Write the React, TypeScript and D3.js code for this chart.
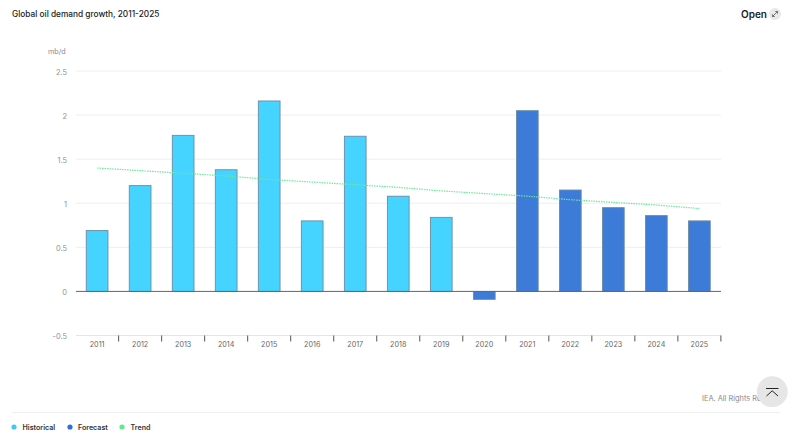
import { useRef, useEffect } from "react";
import * as d3 from "d3";

const WIDTH = 792;
const HEIGHT = 436;
const FONT = "Inter, 'Noto Sans', sans-serif";

const YEARS = ["2011", "2012", "2013", "2014", "2015", "2016", "2017", "2018", "2019", "2020", "2021", "2022", "2023", "2024", "2025"];
const GROWTH = [0.69, 1.2, 1.77, 1.38, 2.16, 0.8, 1.76, 1.08, 0.84, -0.09, 2.05, 1.15, 0.95, 0.86, 0.8];
const TREND = [1.4, 1.37, 1.34, 1.31, 1.27, 1.24, 1.21, 1.18, 1.14, 1.11, 1.08, 1.04, 1.01, 0.98, 0.94];
const KIND = ["h", "h", "h", "h", "h", "h", "h", "h", "h", "f", "f", "f", "f", "f", "f"];
const Y_TICKS = [-0.5, 0, 0.5, 1, 1.5, 2, 2.5];

const HIST_COLOR = "#45d3ff";
const FORECAST_COLOR = "#3d7bd9";
const TREND_COLOR = "#6be89a";

const LEGEND = [
  { label: "Historical", color: "#3fc8fb", x: 14, tx: 22.5 },
  { label: "Forecast", color: "#2f6fdc", x: 70, tx: 78 },
  { label: "Trend", color: "#5fe88f", x: 122, tx: 130.5 },
];

export default function App() {
  const svgRef = useRef<SVGSVGElement>(null);

  useEffect(() => {
    const svg = d3.select(svgRef.current);
    svg.selectAll("*").remove();

    const x = d3.scaleBand<string>().domain(YEARS).range([75.5, 721]).paddingInner(0.495).paddingOuter(0.25);
    const y = d3.scaleLinear().domain([-0.5, 2.5]).range([335.5, 71]);

    // Grid
    svg.append("g")
      .selectAll("line")
      .data(Y_TICKS.filter((t) => t !== 0))
      .enter()
      .append("line")
      .attr("x1", 76)
      .attr("x2", 721)
      .attr("y1", (d) => y(d))
      .attr("y2", (d) => y(d))
      .attr("stroke", (d) => (d === -0.5 ? "#dfe6f0" : "#eeeeee"))
      .attr("stroke-width", 1);

    svg.append("g")
      .selectAll("text")
      .data(Y_TICKS)
      .enter()
      .append("text")
      .attr("x", 67)
      .attr("y", (d) => y(d) + 3.8)
      .attr("text-anchor", "end")
      .attr("font-size", 7.4)
      .attr("fill", "#8f8f8f")
      .text((d) => String(d));

    svg.append("text")
      .attr("x", 48)
      .attr("y", 53.6)
      .attr("font-size", 7.2)
      .attr("fill", "#8a8a8a")
      .text("mb/d");

    // Bars
    svg.append("g")
      .selectAll("rect")
      .data(YEARS)
      .enter()
      .append("rect")
      .attr("x", (d) => x(d) ?? 0)
      .attr("width", x.bandwidth())
      .attr("y", (_, i) => y(Math.max(GROWTH[i], 0)))
      .attr("height", (_, i) => Math.abs(y(GROWTH[i]) - y(0)))
      .attr("fill", (_, i) => (KIND[i] === "h" ? HIST_COLOR : FORECAST_COLOR))
      .attr("stroke", "#6c8ca3")
      .attr("stroke-width", 0.9);

    // Zero line
    svg.append("line")
      .attr("x1", 76)
      .attr("x2", 721)
      .attr("y1", y(0))
      .attr("y2", y(0))
      .attr("stroke", "#666666")
      .attr("stroke-width", 1);

    // Trend
    const line = d3.line<string>()
      .x((d) => (x(d) ?? 0) + x.bandwidth() / 2)
      .y((_, i) => y(TREND[i]));
    svg.append("path")
      .attr("d", line(YEARS))
      .attr("fill", "none")
      .attr("stroke", TREND_COLOR)
      .attr("stroke-width", 1.2)
      .attr("stroke-dasharray", "1.5 1");

    // Year labels and ticks
    const step = x.step();
    svg.append("g")
      .selectAll("line")
      .data(YEARS)
      .enter()
      .append("line")
      .attr("x1", (d) => (x(d) ?? 0) + x.bandwidth() / 2 + step / 2)
      .attr("x2", (d) => (x(d) ?? 0) + x.bandwidth() / 2 + step / 2)
      .attr("y1", y(-0.5))
      .attr("y2", y(-0.5) + 6)
      .attr("stroke", "#555555")
      .attr("stroke-width", 1);

    svg.append("g")
      .selectAll("text")
      .data(YEARS)
      .enter()
      .append("text")
      .attr("x", (d) => (x(d) ?? 0) + x.bandwidth() / 2)
      .attr("y", 347.3)
      .attr("text-anchor", "middle")
      .attr("font-size", 7.2)
      .attr("fill", "#666666")
      .text((d) => d);

    // Header
    svg.append("text")
      .attr("x", 12)
      .attr("y", 16.8)
      .attr("font-size", 8.3)
      .attr("font-weight", 500)
      .attr("fill", "#222222")
      .text("Global oil demand growth, 2011-2025");

    svg.append("text")
      .attr("x", 741)
      .attr("y", 17.5)
      .attr("font-size", 10)
      .attr("font-weight", 600)
      .attr("fill", "#1a1a1a")
      .text("Open");

    svg.append("circle").attr("cx", 775).attr("cy", 14).attr("r", 6).attr("fill", "#e8e8e8");
    svg.append("path")
      .attr("d", "M772.5 16.5 L777.5 11.5 M775.3 11.5 H777.5 V13.7 M772.5 14.3 V16.5 H774.7")
      .attr("fill", "none")
      .attr("stroke", "#444444")
      .attr("stroke-width", 0.7);

    // Source, cut off behind the scroll button
    svg.append("clipPath")
      .attr("id", "source-clip")
      .append("rect")
      .attr("x", 690)
      .attr("y", 385)
      .attr("width", 80)
      .attr("height", 25);
    svg.append("text")
      .attr("x", 702)
      .attr("y", 400.5)
      .attr("font-size", 7.4)
      .attr("fill", "#8a8a8a")
      .attr("clip-path", "url(#source-clip)")
      .text("IEA. All Rights Reserved");

    svg.append("circle").attr("cx", 772.3).attr("cy", 391.7).attr("r", 15.4).attr("fill", "#e6e6e6");
    svg.append("path")
      .attr("d", "M766 388.5 H778.5 M766.5 396 L772.2 390.8 L778 396")
      .attr("fill", "none")
      .attr("stroke", "#222222")
      .attr("stroke-width", 1);

    // Legend
    svg.append("line")
      .attr("x1", 12)
      .attr("x2", 780)
      .attr("y1", 412.5)
      .attr("y2", 412.5)
      .attr("stroke", "#f0f0f0");

    const legend = svg.append("g").selectAll("g").data(LEGEND).enter().append("g");
    legend.append("circle")
      .attr("cx", (d) => d.x)
      .attr("cy", 427)
      .attr("r", 2.6)
      .attr("fill", (d) => d.color);
    legend.append("text")
      .attr("x", (d) => d.tx)
      .attr("y", 429.7)
      .attr("font-size", 7.1)
      .attr("font-weight", 600)
      .attr("fill", "#333333")
      .text((d) => d.label);
  }, []);

  return (
    <svg
      ref={svgRef}
      width={WIDTH}
      height={HEIGHT}
      viewBox={`0 0 ${WIDTH} ${HEIGHT}`}
      style={{ position: "absolute", left: 0, top: 0, background: "#fff", fontFamily: FONT }}
    />
  );
}
